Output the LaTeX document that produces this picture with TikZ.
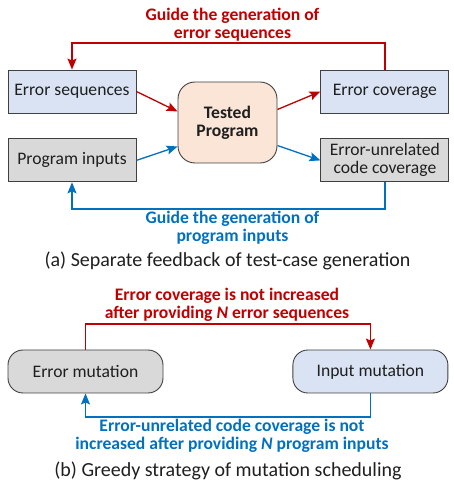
\documentclass[tikz,border=0pt]{standalone}
\usepackage{fontspec}
\setmainfont{Carlito}
\usepackage{xcolor}
\definecolor{colorErr}{HTML}{C00000}
\definecolor{colorInp}{HTML}{0070C0}
\definecolor{fillBlue}{HTML}{DAE3F3}
\definecolor{fillGray}{HTML}{D9D9D9}
\definecolor{fillPeach}{HTML}{FBE5D6}
\colorlet{colorBorder}{black!75}
\colorlet{colorText}{black!88}
\usepackage{tikz}
\usetikzlibrary{arrows.meta, positioning}
\tikzset{
  every node/.style={font=\fontsize{17.6}{18}\selectfont, text=colorText},
  box/.style={draw=colorBorder, line width=0.9pt, minimum width=128pt, minimum height=43pt, inner sep=1pt, align=center},
  mutbox/.style={box, minimum width=155pt, rounded corners=15pt},
  feed/.style={->, line width=1.3pt},
  guide/.style={font=\bfseries\fontsize{17.6}{18}\selectfont, align=center, inner sep=1.5pt},
  caption/.style={font=\fontsize{20}{22}\selectfont},
}

\begin{document}
\begin{tikzpicture}[>={Stealth[length=11pt, width=9pt, inset=2pt]}, x=1pt, y=1pt]
\useasboundingbox (0,0) rectangle (454,485);
% (a) separate feedback
\node[box, fill=fillBlue] (es) at (72,393.5) {Error sequences};
\node[box, fill=fillGray, below=25pt of es] (pi) {Program inputs};
\node[box, fill=fillBlue, right=184pt of es] (ec) {Error coverage};
\node[box, fill=fillGray, right=184pt of pi] (eu) {Error-unrelated\\code coverage};
\node[box, fill=fillPeach, minimum width=99pt, minimum height=81pt, rounded corners=17pt, font=\bfseries\fontsize{17.6}{18}\selectfont] (tp) at (227.5,362.5) {Tested\\Program};
\draw [feed, colorErr] (es.east) -- ([yshift=11pt]tp.west);
\draw [feed, colorInp] (pi.east) -- ([yshift=-24pt]tp.west);
\draw [feed, colorErr] ([yshift=13pt]tp.east) -- (ec.west);
\draw [feed, colorInp] ([yshift=-23pt]tp.east) -- (eu.west);
\draw [feed, colorErr] (ec.north) |- (232.5,442) node[guide, above, text=colorErr]{Guide the generation of\\error sequences} -| (es.north);
\draw [feed, colorInp] (eu.south) |- (232.5,276) node[guide, below, text=colorInp]{Guide the generation of\\program inputs} -| (pi.south);
\node[caption] (capa) at (227.5,224) {(a) Separate feedback of test-case generation};
% (b) greedy strategy
\node[mutbox, fill=fillGray] (em) at (85.5,113.5) {Error mutation};
\node[mutbox, fill=fillBlue, right=129pt of em] (im) {Input mutation};
\draw [feed, colorErr] (em.north) |- (227,161) node[guide, above, text=colorErr]{Error coverage is not increased\\after providing \textit{N} error sequences} -| (im.north);
\draw [feed, colorInp] (im.south) |- (232,68) node[guide, below, text=colorInp]{Error-unrelated code coverage is not\\increased after providing \textit{N} program inputs} -| (em.south);
\node[caption] (capb) at (228,14) {(b) Greedy strategy of mutation scheduling};
\end{tikzpicture}
\end{document}
